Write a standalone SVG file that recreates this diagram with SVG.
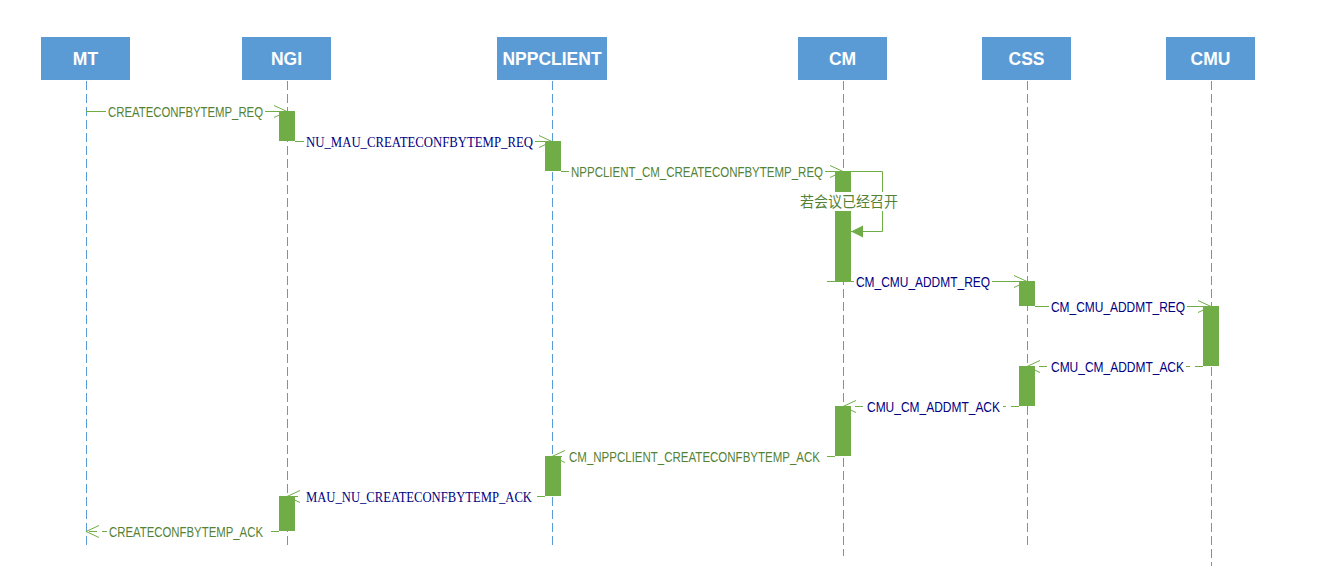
<svg xmlns="http://www.w3.org/2000/svg" width="1324" height="576" viewBox="0 0 1324 576">
<style>
.hdr{fill:#5B9BD5}
.ht{fill:#FFFFFF;font-family:"Liberation Sans",Arial,sans-serif;font-weight:bold;font-size:17.5px;text-anchor:middle}
.life{stroke:#5B9BD5;stroke-width:1;stroke-dasharray:9,4;fill:none}
.act{fill:#70AD47}
.msg{stroke:#70AD47;stroke-width:1;fill:none}
.ret{stroke-dasharray:8,5}
.bg{fill:#FFFFFF}
.g{fill:#548235;font-family:"Liberation Sans",Arial,sans-serif;font-size:14px}
.n{fill:#000080;font-family:"Liberation Sans",Arial,sans-serif;font-size:14px}
.ns{fill:#000080;font-family:"Liberation Serif","Times New Roman",serif;font-size:14.5px}
.cn{fill:#548235;font-family:"Noto Sans CJK SC",sans-serif;font-size:15px}
</style>
<defs>
<marker id="open" markerUnits="userSpaceOnUse" markerWidth="16" markerHeight="14" refX="13" refY="6" orient="auto" overflow="visible">
<path d="M0,0 L13,6 L0,12" fill="none" stroke="#70AD47" stroke-width="1"/>
</marker>
<marker id="solid" markerUnits="userSpaceOnUse" markerWidth="14" markerHeight="14" refX="12" refY="6" orient="auto" overflow="visible">
<path d="M0,0 L12,6 L0,12 Z" fill="#70AD47"/>
</marker>
</defs>
<rect width="1324" height="576" fill="#FFFFFF"/>

<g id="MT">
<rect class="hdr" x="41" y="37" width="89" height="43"/>
<text class="ht" x="85.5" y="64.5">MT</text>
<line class="life" x1="86.5" y1="81" x2="86.5" y2="545"/>
</g>
<g id="NGI">
<rect class="hdr" x="242" y="37" width="89" height="43"/>
<text class="ht" x="286.5" y="64.5">NGI</text>
<line class="life" x1="287.5" y1="81" x2="287.5" y2="545"/>
</g>
<g id="NPPCLIENT">
<rect class="hdr" x="497" y="37" width="110" height="43"/>
<text class="ht" x="552" y="64.5">NPPCLIENT</text>
<line class="life" x1="552.5" y1="81" x2="552.5" y2="545"/>
</g>
<g id="CM">
<rect class="hdr" x="798" y="37" width="89" height="43"/>
<text class="ht" x="842.5" y="64.5">CM</text>
<line class="life" x1="843.5" y1="81" x2="843.5" y2="556"/>
</g>
<g id="CSS">
<rect class="hdr" x="982" y="37" width="89" height="43"/>
<text class="ht" x="1026.5" y="64.5">CSS</text>
<line class="life" x1="1027.5" y1="81" x2="1027.5" y2="545"/>
</g>
<g id="CMU">
<rect class="hdr" x="1166" y="37" width="89" height="43"/>
<text class="ht" x="1210.5" y="64.5">CMU</text>
<line class="life" x1="1211.5" y1="81" x2="1211.5" y2="566"/>
</g>

<g id="connectors">
<path class="msg" d="M86,111.5 H287" marker-end="url(#open)"/>
<rect class="bg" x="106" y="103" width="159" height="16"/>
<text class="g" x="108" y="116.5" textLength="155" lengthAdjust="spacingAndGlyphs">CREATECONFBYTEMP_REQ</text>

<path class="msg" d="M295,141.5 H552" marker-end="url(#open)"/>
<rect class="bg" x="304" y="133" width="231" height="16"/>
<text class="ns" x="306" y="146.5" textLength="227" lengthAdjust="spacingAndGlyphs">NU_MAU_CREATECONFBYTEMP_REQ</text>

<path class="msg" d="M561,171.5 H843" marker-end="url(#open)"/>
<rect class="bg" x="569" y="163" width="256" height="16"/>
<text class="g" x="571" y="176.5" textLength="252" lengthAdjust="spacingAndGlyphs">NPPCLIENT_CM_CREATECONFBYTEMP_REQ</text>

<polyline class="msg" points="851,171.5 882.5,171.5 882.5,231.5 851,231.5" marker-end="url(#solid)"/>
<rect class="bg" x="797" y="192" width="103" height="19"/>
<text class="cn" x="800" y="206.5" textLength="98" lengthAdjust="spacingAndGlyphs">若会议已经召开</text>

<path class="msg" d="M827,281.5 H1027" marker-end="url(#open)"/>
<rect class="bg" x="854" y="273" width="138" height="17"/>
<text class="n" x="856" y="286.5" textLength="134" lengthAdjust="spacingAndGlyphs">CM_CMU_ADDMT_REQ</text>

<path class="msg" d="M1035,306.5 H1211" marker-end="url(#open)"/>
<rect class="bg" x="1049" y="298" width="138" height="17"/>
<text class="n" x="1051" y="311.5" textLength="134" lengthAdjust="spacingAndGlyphs">CM_CMU_ADDMT_REQ</text>

<path class="msg ret" d="M1203,366.5 H1027" marker-end="url(#open)"/>
<rect class="bg" x="1048" y="358" width="138" height="17"/>
<text class="n" x="1051" y="371.5" textLength="133" lengthAdjust="spacingAndGlyphs">CMU_CM_ADDMT_ACK</text>

<path class="msg ret" d="M1019,406.5 H843" marker-end="url(#open)"/>
<rect class="bg" x="864" y="398" width="139" height="17"/>
<text class="n" x="867" y="411.5" textLength="133" lengthAdjust="spacingAndGlyphs">CMU_CM_ADDMT_ACK</text>

<path class="msg ret" d="M835,456.5 H552" marker-end="url(#open)"/>
<rect class="bg" x="567" y="448" width="255" height="16"/>
<text class="g" x="569" y="461.5" textLength="251" lengthAdjust="spacingAndGlyphs">CM_NPPCLIENT_CREATECONFBYTEMP_ACK</text>

<path class="msg ret" d="M545,496.5 H287" marker-end="url(#open)"/>
<rect class="bg" x="303" y="488" width="231" height="16"/>
<text class="ns" x="306" y="501.5" textLength="226" lengthAdjust="spacingAndGlyphs">MAU_NU_CREATECONFBYTEMP_ACK</text>

<path class="msg ret" d="M279,531.5 H86" marker-end="url(#open)"/>
<rect class="bg" x="107" y="523" width="159" height="16"/>
<text class="g" x="109" y="536.5" textLength="154" lengthAdjust="spacingAndGlyphs">CREATECONFBYTEMP_ACK</text>
</g>

<g id="activations">
<rect class="act" x="279" y="111" width="16" height="30"/>
<rect class="act" x="545" y="141" width="16" height="30"/>
<rect class="act" x="835" y="171" width="16" height="21"/>
<rect class="act" x="835" y="211" width="16" height="70"/>
<rect class="act" x="1019" y="281" width="16" height="25"/>
<rect class="act" x="1203" y="306" width="16" height="60"/>
<rect class="act" x="1019" y="366" width="16" height="40"/>
<rect class="act" x="835" y="406" width="16" height="50"/>
<rect class="act" x="545" y="456" width="16" height="40"/>
<rect class="act" x="279" y="496" width="16" height="35"/>
</g>
</svg>
